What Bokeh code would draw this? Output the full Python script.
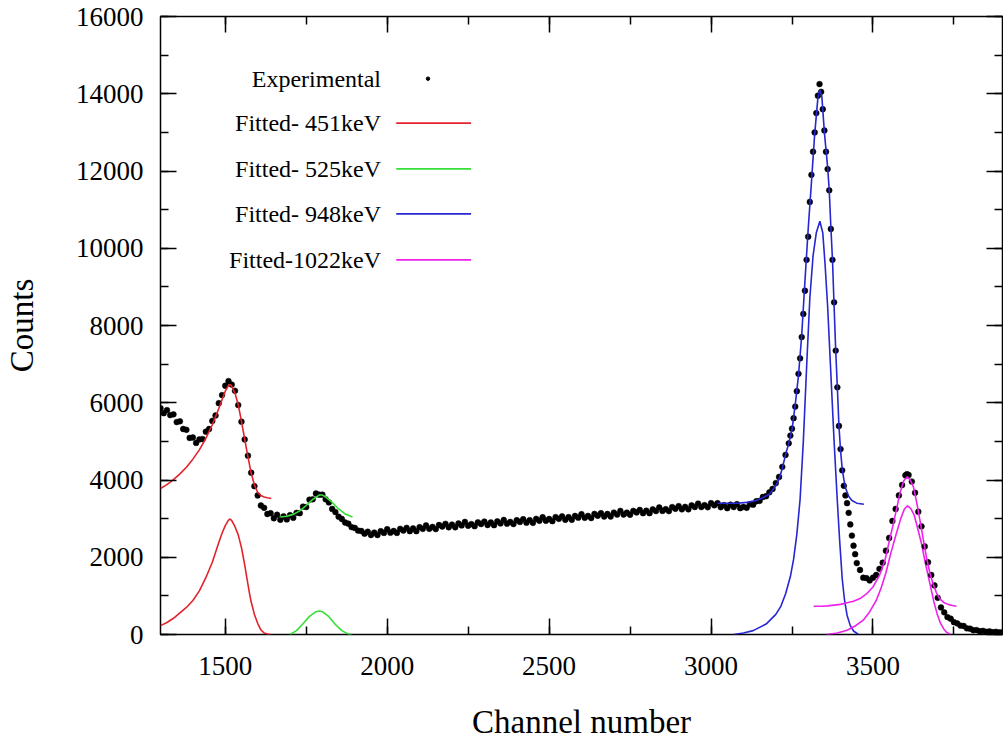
from bokeh.plotting import figure
from bokeh.models import LinearAxis, Range1d, SingleIntervalTicker, CustomJSTickFormatter
from bokeh.core.properties import value
from bokeh.embed import file_html
from bokeh.resources import INLINE

FONT = "Liberation Serif"

# ---------------- data ----------------
exp_channel = [
    1300, 1310, 1320, 1330, 1340, 1350, 1360, 1370, 1380, 1390, 1400, 1410, 1420, 1430, 1440,
    1450, 1460, 1470, 1480, 1490, 1500, 1510, 1520, 1530, 1540, 1550, 1560, 1570, 1580, 1590,
    1600, 1610, 1620, 1630, 1640, 1650, 1660, 1670, 1680, 1690, 1700, 1710, 1720, 1730, 1740,
    1750, 1760, 1770, 1780, 1790, 1800, 1810, 1820, 1830, 1840, 1850, 1860, 1870, 1880, 1890,
    1900, 1910, 1920, 1930, 1940, 1950, 1960, 1970, 1980, 1990, 2000, 2010, 2020, 2030, 2040,
    2050, 2060, 2070, 2080, 2090, 2100, 2110, 2120, 2130, 2140, 2150, 2160, 2170, 2180, 2190,
    2200, 2210, 2220, 2230, 2240, 2250, 2260, 2270, 2280, 2290, 2300, 2310, 2320, 2330, 2340,
    2350, 2360, 2370, 2380, 2390, 2400, 2410, 2420, 2430, 2440, 2450, 2460, 2470, 2480, 2490,
    2500, 2510, 2520, 2530, 2540, 2550, 2560, 2570, 2580, 2590, 2600, 2610, 2620, 2630, 2640,
    2650, 2660, 2670, 2680, 2690, 2700, 2710, 2720, 2730, 2740, 2750, 2760, 2770, 2780, 2790,
    2800, 2810, 2820, 2830, 2840, 2850, 2860, 2870, 2880, 2890, 2900, 2910, 2920, 2930, 2940,
    2950, 2960, 2970, 2980, 2990, 3000, 3010, 3020, 3030, 3040, 3050, 3060, 3070, 3080, 3090,
    3100, 3110, 3120, 3130, 3140, 3150, 3160, 3170, 3180, 3190, 3200, 3210, 3220, 3230, 3240,
    3245, 3250, 3255, 3260, 3265, 3270, 3275, 3280, 3285, 3290, 3295, 3300, 3305, 3310, 3315,
    3320, 3325, 3330, 3335, 3340, 3345, 3350, 3355, 3360, 3365, 3370, 3375, 3380, 3385, 3390,
    3395, 3400, 3405, 3410, 3415, 3420, 3425, 3430, 3435, 3440, 3445, 3450, 3460, 3470, 3480,
    3490, 3500, 3510, 3520, 3530, 3540, 3550, 3560, 3570, 3580, 3590, 3600, 3605, 3610, 3620,
    3630, 3640, 3650, 3660, 3670, 3680, 3690, 3700, 3710, 3720, 3730, 3740, 3750, 3760, 3770,
    3780, 3790, 3800, 3810, 3820, 3830, 3840, 3850, 3860, 3870, 3880, 3890, 3900,
]
exp_counts = [
    5860, 5730, 5810, 5680, 5700, 5500, 5520, 5320, 5300, 5090, 5100, 4960, 5050, 5060, 5250,
    5320, 5530, 5670, 5990, 6200, 6440, 6560, 6470, 6310, 5940, 5510, 5050, 4630, 4190, 3840,
    3600, 3340, 3280, 3120, 3140, 3010, 3100, 2970, 3060, 2980, 3090, 3020, 3150, 3140, 3310,
    3300, 3490, 3500, 3650, 3620, 3620, 3500, 3420, 3250, 3170, 3050, 2990, 2900, 2870, 2780,
    2760, 2690, 2680, 2610, 2660, 2575, 2640, 2575, 2675, 2630, 2725, 2635, 2680, 2630, 2735,
    2690, 2760, 2675, 2745, 2675, 2780, 2735, 2825, 2735, 2785, 2730, 2835, 2795, 2865, 2775,
    2845, 2775, 2875, 2825, 2915, 2815, 2860, 2805, 2905, 2860, 2925, 2835, 2900, 2830, 2930,
    2875, 2965, 2870, 2915, 2860, 2960, 2915, 2985, 2895, 2960, 2890, 2995, 2945, 3035, 2945,
    2990, 2935, 3040, 2995, 3060, 2970, 3040, 2970, 3070, 3025, 3115, 3020, 3070, 3015, 3120,
    3075, 3140, 3055, 3120, 3055, 3155, 3105, 3200, 3105, 3155, 3100, 3200, 3160, 3225, 3140,
    3205, 3140, 3240, 3195, 3290, 3200, 3245, 3195, 3300, 3255, 3325, 3240, 3305, 3240, 3345,
    3300, 3390, 3300, 3350, 3295, 3400, 3345, 3400, 3295, 3350, 3270, 3360, 3300, 3375, 3270,
    3305, 3280, 3370, 3360, 3450, 3460, 3560, 3580, 3680, 3770, 3920, 4080, 4340, 4650, 4950,
    5150, 5330, 5600, 5900, 6300, 6750, 7150, 7700, 8300, 8900, 9700, 10300, 11200, 11900, 12500,
    13000, 13500, 13950, 14250, 14050, 13600, 13050, 12500, 12050, 11500, 10500, 9700, 8600, 7350, 6400,
    5400, 4800, 4250, 3850, 3600, 3400, 3150, 2850, 2560, 2300, 2080, 1850, 1670, 1470, 1460,
    1400, 1470, 1540, 1700, 1860, 2170, 2500, 2940, 3250, 3600, 3870, 4120, 4150, 4130, 3960,
    3670, 3180, 2800, 2280, 1870, 1540, 1270, 950, 700, 575, 450, 410, 320, 290, 230,
    220, 160, 150, 110, 115, 85, 95, 70, 80, 60, 70, 55, 60,
]

# fitted curve for the 451 keV peak (total and single component)
fit451_channel = [1300, 1320, 1340, 1360, 1380, 1400, 1420, 1440, 1460, 1480, 1490, 1500, 1510,
                  1515, 1520, 1530, 1540, 1550, 1560, 1570, 1580, 1590, 1600, 1610, 1620, 1630, 1642]
fit451_total = [3780, 3880, 4010, 4160, 4330, 4540, 4780, 5080, 5430, 5850, 6080, 6300, 6450,
                6470, 6430, 6250, 5950, 5520, 5060, 4600, 4180, 3870, 3680, 3600, 3560, 3540, 3520]
comp451_channel = [1300, 1320, 1340, 1360, 1380, 1400, 1420, 1440, 1460, 1480, 1490, 1500, 1510,
                   1515, 1520, 1530, 1540, 1550, 1560, 1570, 1575, 1580, 1590, 1600, 1610, 1620, 1630, 1640]
comp451_counts = [230, 310, 420, 560, 700, 880, 1130, 1470, 1870, 2380, 2620, 2820, 2960,
                  2990, 2950, 2790, 2580, 2250, 1800, 1300, 1060, 840, 520, 290, 120, 40, 10, 0]

# 525 keV
fit525_channel = [1670, 1690, 1710, 1730, 1750, 1770, 1790, 1800, 1810, 1830, 1850, 1870, 1893]
fit525_total = [3040, 3060, 3110, 3200, 3340, 3500, 3610, 3610, 3560, 3420, 3250, 3120, 3040]
comp525_channel = [1700, 1720, 1740, 1760, 1780, 1790, 1800, 1820, 1840, 1860, 1880, 1890]
comp525_counts = [0, 100, 280, 470, 590, 610, 590, 460, 260, 100, 10, 0]

# 948 keV
fit948_channel = [3020, 3050, 3080, 3110, 3140, 3160, 3180, 3200, 3210, 3220, 3230, 3240, 3250,
                  3260, 3270, 3280, 3290, 3300, 3310, 3320, 3330, 3336, 3342, 3350, 3360, 3365,
                  3370, 3375, 3380, 3385, 3390, 3395, 3400, 3405, 3410, 3415, 3425, 3435, 3450, 3472]
fit948_total = [3400, 3400, 3400, 3420, 3470, 3540, 3630, 3850, 4020, 4300, 4650, 4950, 5300,
                5950, 6700, 7750, 9150, 10500, 11700, 12950, 13900, 14100, 13950, 13000, 12100, 11500,
                10550, 9700, 8500, 7350, 6400, 5400, 4750, 4300, 4020, 3800, 3580, 3470, 3400, 3370]
comp948_channel = [3070, 3100, 3130, 3170, 3200, 3215, 3230, 3245, 3255, 3265, 3275, 3285, 3295,
                   3305, 3315, 3325, 3336, 3345, 3352, 3360, 3370, 3380, 3390, 3397, 3405, 3412,
                   3420, 3430, 3440, 3455]
comp948_counts = [0, 40, 100, 270, 520, 720, 1050, 1500, 1950, 2600, 3500, 5000, 6900,
                  8700, 9800, 10400, 10700, 10400, 9600, 8500, 6750, 5000, 3450, 2450, 1450, 900,
                  500, 230, 90, 0]

# 1022 keV
fit1022_channel = [3317, 3340, 3360, 3380, 3400, 3420, 3440, 3460, 3480, 3500, 3520, 3537, 3550,
                   3563, 3575, 3583, 3595, 3606, 3615, 3625, 3635, 3645, 3655, 3665, 3676, 3686,
                   3696, 3706, 3720, 3732, 3745, 3758]
fit1022_total = [730, 730, 740, 760, 780, 820, 860, 930, 1050, 1230, 1530, 1920, 2400,
                 2870, 3330, 3650, 3980, 4080, 4000, 3820, 3420, 2960, 2480, 2010, 1580, 1300,
                 1080, 930, 820, 780, 750, 730]
comp1022_channel = [3357, 3390, 3420, 3445, 3470, 3490, 3510, 3525, 3540, 3555, 3570, 3585, 3597,
                    3607, 3617, 3627, 3638, 3650, 3663, 3676, 3688, 3698, 3708, 3718, 3728, 3740]
comp1022_counts = [0, 40, 110, 220, 370, 590, 880, 1200, 1600, 2100, 2550, 2980, 3250,
                   3330, 3260, 3100, 2750, 2350, 1800, 1310, 850, 540, 300, 150, 50, 0]

legend_labels = ["Experimental", "Fitted- 451keV", "Fitted- 525keV", "Fitted- 948keV", "Fitted-1022keV"]

x_ticks_interval = 500
y_ticks_interval = 2000

# ---------------- styles ----------------
RED = "#e3232b"
GREEN = "#36e036"
BLUE = "#2626d2"
MAGENTA = "#ee22ee"

p = figure(width=1003, height=744, output_backend="svg", toolbar_location=None,
           x_range=Range1d(1300, 3900), y_range=Range1d(0, 16000),
           min_border_left=159, min_border_right=1, min_border_top=16, min_border_bottom=110,
           x_axis_label="Channel number", y_axis_label="Counts")
p.background_fill_color = "white"
p.border_fill_color = "white"
p.outline_line_color = "black"
p.outline_line_width = 1.5
p.outline_line_alpha = 1.0
p.xgrid.grid_line_color = None
p.ygrid.grid_line_color = None

xax = p.below[0]
yax = p.left[0]
xax.ticker = SingleIntervalTicker(interval=x_ticks_interval, num_minor_ticks=2)
yax.ticker = SingleIntervalTicker(interval=y_ticks_interval, num_minor_ticks=2)

blank = CustomJSTickFormatter(code="return ''")
top_axis = LinearAxis(ticker=SingleIntervalTicker(interval=x_ticks_interval, num_minor_ticks=2),
                      formatter=blank)
right_axis = LinearAxis(ticker=SingleIntervalTicker(interval=y_ticks_interval, num_minor_ticks=2),
                        formatter=blank)
p.add_layout(top_axis, "above")
p.add_layout(right_axis, "right")

for ax in [xax, yax, top_axis, right_axis]:
    ax.axis_line_color = None
    ax.major_tick_in = 16
    ax.major_tick_out = 0
    ax.minor_tick_in = 8
    ax.minor_tick_out = 0
    ax.major_tick_line_color = "black"
    ax.minor_tick_line_color = "black"
    ax.major_tick_line_width = 1.5
    ax.minor_tick_line_width = 1.5
    ax.major_label_text_font = FONT
    ax.major_label_text_font_size = "27px"
    ax.major_label_text_color = "black"
    ax.axis_label_text_font = FONT
    ax.axis_label_text_font_size = "33px"
    ax.axis_label_text_font_style = "normal"
    ax.axis_label_text_color = "black"

for ax in [top_axis, right_axis]:
    ax.major_label_text_font_size = "1px"
    ax.major_label_standoff = 0

xax.major_label_standoff = 22
xax.axis_label_standoff = 26
yax.major_label_standoff = 17
yax.axis_label_standoff = 33

# single fitted components
p.line(comp451_channel, comp451_counts, line_color=RED, line_width=1.6)
p.line(comp525_channel, comp525_counts, line_color=GREEN, line_width=1.6)
p.line(comp948_channel, comp948_counts, line_color=BLUE, line_width=1.6)
p.line(comp1022_channel, comp1022_counts, line_color=MAGENTA, line_width=1.6)

# experimental points
p.scatter(exp_channel, exp_counts, marker="circle", size=5.8, fill_color="black",
          line_color="black", line_width=0.5)

# total fits drawn over points
p.line(fit451_channel, fit451_total, line_color=RED, line_width=1.6)
p.line(fit525_channel, fit525_total, line_color=GREEN, line_width=1.6)
p.line(fit948_channel, fit948_total, line_color=BLUE, line_width=1.6)
p.line(fit1022_channel, fit1022_total, line_color=MAGENTA, line_width=1.6)

# ---------------- legend (gnuplot style: text, then sample) ----------------
leg_text_x = 1981
leg_y = [14390, 13240, 12055, 10890, 9700]
leg_line_x0, leg_line_x1 = 2028, 2259
leg_dot_x = 2126
leg_colors = [RED, GREEN, BLUE, MAGENTA]

p.text(x=[leg_text_x] * len(legend_labels), y=leg_y, text=legend_labels,
       text_align="right", text_baseline="middle", text_font=value(FONT),
       text_font_size="24px", text_color="black")
p.scatter([leg_dot_x], [leg_y[0]], marker="circle", size=3.5, fill_color="black", line_color="black")
p.segment(x0=[leg_line_x0] * 4, y0=leg_y[1:], x1=[leg_line_x1] * 4, y1=leg_y[1:],
          line_color=leg_colors, line_width=1.6)

open("out.html", "w").write(file_html(p, INLINE))
